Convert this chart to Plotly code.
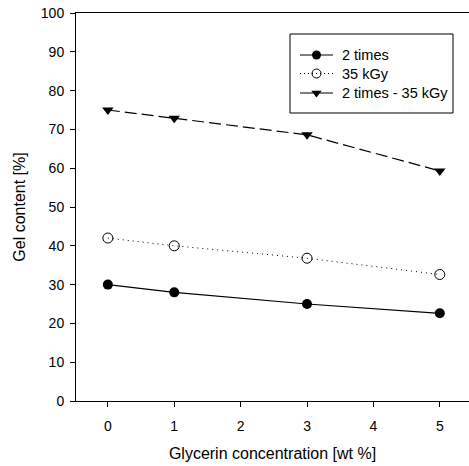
import plotly.graph_objects as go

glycerin = [0, 1, 3, 5]
two_times = [30, 28, 25, 22.6]
kgy35 = [42, 40, 36.8, 32.6]
two_times_35 = [75, 72.9, 68.6, 59.3]
series_names = ["2 times", "35 kGy", "2 times - 35 kGy"]

FONT = "Liberation Sans, Arial, sans-serif"

styles = [
    dict(line=dict(color="black", width=1.2),
         marker=dict(symbol="circle", size=10, color="black")),
    dict(line=dict(color="black", width=1, dash="1px,4px"),
         marker=dict(symbol="circle-open", size=10, color="black", line=dict(width=1))),
    dict(line=dict(color="black", width=1.2, dash="12px,5px"),
         marker=dict(symbol="triangle-down", size=10, color="black")),
]
legend_line = [dict(color="black", width=1.2),
               dict(color="black", width=1, dash="1px,3px"),
               dict(color="black", width=1.2)]

fig = go.Figure()
for ys, name, st in zip([two_times, kgy35, two_times_35], series_names, styles):
    fig.add_trace(go.Scatter(x=glycerin, y=ys, name=name, mode="lines+markers",
                             showlegend=False, **st))

# hand-drawn legend on a pixel-space overlay axis
LX0, LX1, TX = 300, 333, 340
row_y = [55, 73.5, 93]
for name, st, ll, yy in zip(series_names, styles, legend_line, row_y):
    fig.add_trace(go.Scatter(x=[LX0, LX1], y=[yy, yy], mode="lines",
                             xaxis="x2", yaxis="y2", line=ll,
                             showlegend=False, hoverinfo="skip"))
    fig.add_trace(go.Scatter(x=[(LX0 + LX1) / 2], y=[yy], mode="markers",
                             xaxis="x2", yaxis="y2",
                             marker=dict(st["marker"], size=9),
                             showlegend=False, hoverinfo="skip"))
    fig.add_annotation(x=TX, y=yy, xref="x2", yref="y2", text=name,
                       showarrow=False, xanchor="left", yanchor="middle",
                       font=dict(family=FONT, size=14.5, color="black"))
fig.add_shape(type="rect", xref="x2", yref="y2", x0=290, x1=453, y0=34, y1=113,
              line=dict(color="black", width=1), fillcolor="rgba(0,0,0,0)")

fig.update_layout(
    width=469, height=466,
    margin=dict(l=76, r=0, t=13, b=65),
    plot_bgcolor="white", paper_bgcolor="white",
    font=dict(family=FONT, size=13, color="black"),
    showlegend=False,
    xaxis=dict(range=[-0.48, 5.44], tickvals=[0, 1, 2, 3, 4, 5],
               showline=True, linecolor="black", linewidth=1, mirror=True,
               ticks="outside", ticklen=5, tickcolor="black", ticklabelstandoff=7,
               tickfont=dict(size=14),
               showgrid=False, zeroline=False,
               title=dict(text="Glycerin concentration [wt %]", standoff=15)),
    yaxis=dict(range=[0, 100], tickvals=list(range(0, 101, 10)),
               showline=True, linecolor="black", linewidth=1,
               ticks="outside", ticklen=5, tickcolor="black", ticklabelstandoff=3,
               tickfont=dict(size=14),
               showgrid=False, zeroline=False,
               title=dict(text="Gel content [%]", standoff=11)),
    xaxis2=dict(overlaying="x", range=[76, 469], visible=False),
    yaxis2=dict(overlaying="y", range=[401, 13], visible=False),
)

fig.write_html("out.html")
